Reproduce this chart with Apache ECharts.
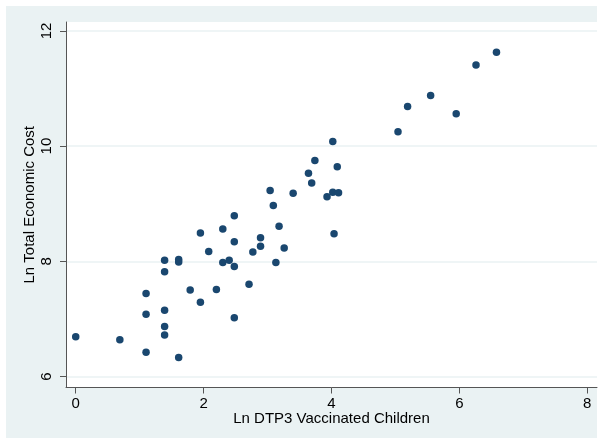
<!DOCTYPE html>
<html>
<head>
<meta charset="utf-8">
<script src="https://cdn.jsdelivr.net/npm/echarts@6/dist/echarts.min.js"></script>
<style>
html,body{margin:0;padding:0;background:#ffffff;}
#chart{width:603px;height:444px;}
</style>
</head>
<body>
<div id="chart"></div>
<script>
// Tick labels
const xTicks = [0, 2, 4, 6, 8];
const yTicks = [6, 8, 10, 12];
const xTitle = 'Ln DTP3 Vaccinated Children';
const yTitle = 'Ln Total Economic Cost';

// Series values
const lnVaccinated = [
  0.00, 0.69, 1.10, 1.10, 1.10, 1.39, 1.39, 1.39, 1.39, 1.39,
  1.61, 1.61, 1.61, 1.79, 1.95, 1.95, 2.08, 2.20, 2.30, 2.30,
  2.40, 2.48, 2.48, 2.48, 2.48, 2.71, 2.77, 2.89, 2.89, 3.04,
  3.09, 3.13, 3.18, 3.26, 3.40, 3.64, 3.69, 3.74, 3.93, 4.02,
  4.02, 4.04, 4.09, 4.11, 5.04, 5.19, 5.55, 5.95, 6.26, 6.58
];
const lnCost = [
  6.69, 6.64, 7.44, 7.08, 6.42, 8.02, 7.82, 7.15, 6.87, 6.72,
  8.03, 7.99, 6.33, 7.50, 8.49, 7.29, 8.17, 7.51, 8.56, 7.98,
  8.02, 8.79, 8.34, 7.91, 7.02, 7.60, 8.16, 8.41, 8.26, 9.23,
  8.97, 7.98, 8.61, 8.23, 9.18, 9.53, 9.36, 9.75, 9.12, 10.08,
  9.20, 8.48, 9.64, 9.19, 10.25, 10.69, 10.88, 10.56, 11.41, 11.63
];

const points = lnVaccinated.map((x, i) => [x, lnCost[i]]);

const font = '"Liberation Sans", Arial, Helvetica, sans-serif';
const axisColor = '#555555';

const chart = echarts.init(document.getElementById('chart'), null, {renderer: 'canvas'});
chart.setOption({
  animation: false,
  backgroundColor: 'transparent',
  textStyle: {fontFamily: font},
  graphic: [{
    type: 'rect',
    z: -100,
    silent: true,
    shape: {x: 6, y: 6, width: 591, height: 432},
    style: {fill: '#eaf2f3'}
  }],
  grid: {
    left: 66, right: 6, top: 22, bottom: 56.5,
    show: true, backgroundColor: '#ffffff', borderWidth: 0,
    containLabel: false
  },
  xAxis: {
    type: 'value',
    min: -0.152, max: 8.152,
    name: xTitle,
    nameLocation: 'middle',
    nameGap: 24,
    nameMoveOverlap: false,
    nameTextStyle: {fontFamily: font, fontSize: 15, color: '#000'},
    axisLine: {show: true, onZero: false, lineStyle: {color: axisColor, width: 1}},
    axisTick: {show: true, inside: false, length: 6, customValues: xTicks, lineStyle: {color: axisColor}},
    axisLabel: {customValues: xTicks, margin: 9, fontSize: 15, color: '#000', fontFamily: font},
    splitLine: {show: false}
  },
  yAxis: {
    type: 'value',
    min: 5.809, max: 12.155,
    name: yTitle,
    nameLocation: 'middle',
    nameGap: 29,
    nameMoveOverlap: false,
    nameRotate: 90,
    nameTextStyle: {fontFamily: font, fontSize: 15, color: '#000'},
    axisLine: {show: true, onZero: false, lineStyle: {color: axisColor, width: 1}},
    axisTick: {show: true, inside: false, length: 6, customValues: yTicks, lineStyle: {color: axisColor}},
    axisLabel: {customValues: yTicks, rotate: 90, margin: 12, fontSize: 15, color: '#000', fontFamily: font},
    splitLine: {show: true, lineStyle: {color: '#eaf2f3', width: 1.5}}
  },
  series: [{
    type: 'scatter',
    data: points,
    symbol: 'circle',
    symbolSize: 7.5,
    itemStyle: {color: '#1a476f', opacity: 1},
    emphasis: {disabled: true}
  }]
});
</script>
</body>
</html>
